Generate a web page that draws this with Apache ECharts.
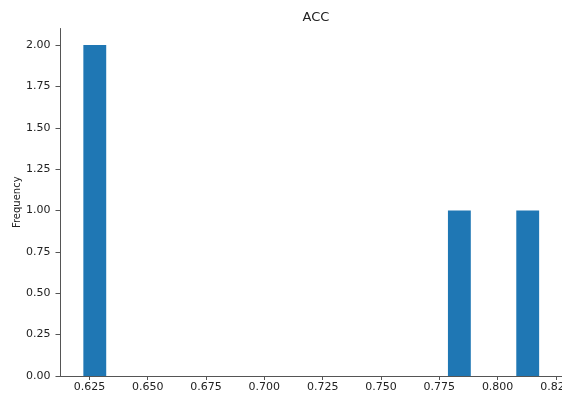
<!DOCTYPE html>
<html>
<head>
<meta charset="utf-8">
<script src="https://cdn.jsdelivr.net/npm/echarts@6/dist/echarts.min.js"></script>
<style>
  html, body { margin: 0; padding: 0; background: #fff; }
  #chart { width: 562px; height: 395px; }
</style>
</head>
<body>
<div id="chart"></div>
<script>
// Histogram of ACC: 20 equal-width bins
const binEdges = [0.6224, 0.6322, 0.6420, 0.6517, 0.6615, 0.6713, 0.6810, 0.6908,
  0.7006, 0.7103, 0.7201, 0.7299, 0.7396, 0.7494, 0.7592, 0.7690, 0.7787,
  0.7885, 0.7983, 0.8080, 0.8178];
const binCounts = [2, 0, 0, 0, 0, 0, 0, 0, 0, 0, 0, 0, 0, 0, 0, 0, 1, 0, 0, 1];
const xTicks = [0.625, 0.650, 0.675, 0.700, 0.725, 0.750, 0.775, 0.800, 0.825];
const yTicks = [0, 0.25, 0.5, 0.75, 1.0, 1.25, 1.5, 1.75, 2.0];

const bins = binCounts.map((c, i) => [binEdges[i], binEdges[i + 1], c]);

const font = 'DejaVu Sans';
const axisColor = '#555';
const textColor = '#222';

const chart = echarts.init(document.getElementById('chart'), null, { renderer: 'canvas' });
chart.setOption({
  animation: false,
  backgroundColor: '#fff',
  title: {
    text: 'ACC',
    left: 311,
    textAlign: 'center',
    top: 6,
    textStyle: { fontFamily: font, fontSize: 13, fontWeight: 'normal', color: textColor }
  },
  grid: { left: 60.5, right: 0, top: 28.5, bottom: 19, containLabel: false, outerBoundsMode: 'none' },
  xAxis: {
    type: 'value',
    min: 0.6126,
    max: 0.8276,
    interval: 0.025,
    axisLine: { show: true, lineStyle: { color: axisColor, width: 1 } },
    axisTick: { show: true, length: 4, lineStyle: { color: axisColor }, customValues: xTicks },
    axisLabel: {
      customValues: xTicks,
      fontFamily: font, fontSize: 11, color: textColor, margin: 6,
      formatter: v => v.toFixed(3)
    },
    splitLine: { show: false }
  },
  yAxis: {
    type: 'value',
    min: 0,
    max: 2.1,
    name: 'Frequency',
    nameLocation: 'middle',
    nameGap: 38,
    nameMoveOverlap: false,
    nameTextStyle: { fontFamily: font, fontSize: 10, color: textColor },
    axisLine: { show: true, lineStyle: { color: axisColor, width: 1 } },
    axisTick: { show: true, length: 5, lineStyle: { color: axisColor }, customValues: yTicks },
    axisLabel: {
      customValues: yTicks,
      fontFamily: font, fontSize: 11, color: textColor, margin: 10,
      formatter: v => v.toFixed(2)
    },
    splitLine: { show: false }
  },
  series: [{
    type: 'custom',
    data: bins,
    renderItem: (params, api) => {
      const x0 = api.value(0), x1 = api.value(1), c = api.value(2);
      if (!c) return null;
      const p0 = api.coord([x0, c]);
      const p1 = api.coord([x1, 0]);
      return {
        type: 'rect',
        shape: { x: p0[0], y: p0[1], width: p1[0] - p0[0], height: p1[1] - p0[1] },
        style: { fill: '#1f77b4' }
      };
    },
    encode: { x: [0, 1], y: 2 }
  }]
});
</script>
</body>
</html>
